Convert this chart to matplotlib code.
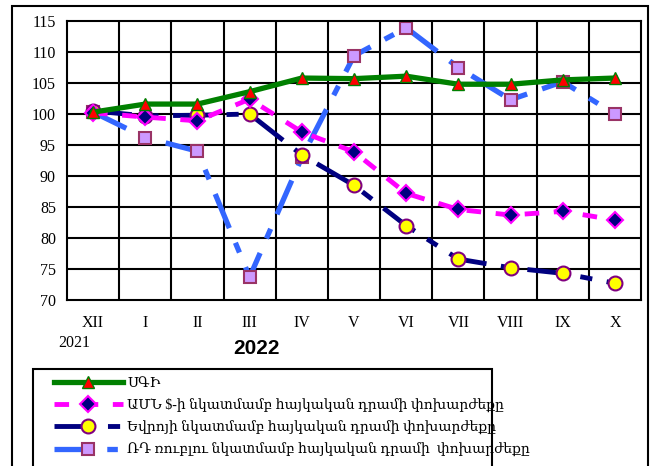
import matplotlib
matplotlib.use('Agg')
import matplotlib.pyplot as plt
from matplotlib.patches import Rectangle

months = ['XII', 'I', 'II', 'III', 'IV', 'V', 'VI', 'VII', 'VIII', 'IX', 'X']
cpi = [100.3, 101.6, 101.6, 103.6, 105.8, 105.7, 106.1, 104.8, 104.8, 105.5, 105.8]
usd = [100.2, 99.5, 98.9, 102.4, 97.1, 93.9, 87.2, 84.6, 83.7, 84.3, 82.9]
eur = [100.5, 99.7, 99.8, 100.0, 93.4, 88.5, 82.0, 76.6, 75.2, 74.3, 72.7]
rub = [100.3, 96.2, 94.0, 73.7, 93.0, 109.4, 113.9, 107.5, 102.3, 105.2, 100.0]
names = ['ՍԳԻ',
         'ԱՄՆ $-ի նկատմամբ հայկական դրամի փոխարժեքը',
         'Եվրոյի նկատմամբ հայկական դրամի փոխարժեքը',
         'ՌԴ ռուբլու նկատմամբ հայկական դրամի  փոխարժեքը']

serif = ['Liberation Serif', 'DejaVu Serif']
plt.rcParams['font.family'] = serif

fig = plt.figure(figsize=(6.51, 4.66), dpi=100)
ax = fig.add_axes([67/651, 1 - 300/466, 574/651, 279/466])

x = list(range(len(months)))
ax.plot(x, cpi, color='#008000', lw=3.8, marker='^', ms=8,
        mfc='red', mec='#008000', mew=1, label=names[0], zorder=5)
ax.plot(x, usd, color='#ff00ff', lw=3.5, ls=(0, (3, 3)), marker='D', ms=8,
        mfc='#000080', mec='#ff00ff', mew=1.5, label=names[1], zorder=4)
ax.plot(x, eur, color='#000080', lw=3.5, ls=(0, (8, 3, 2.5, 3)), marker='o', ms=10,
        mfc='yellow', mec='#800080', mew=1.5, label=names[2], zorder=3)
ax.plot(x, rub, color='#3366ff', lw=3.8, ls=(0, (7, 3, 2, 3)), marker='s', ms=8,
        mfc='#cc99ff', mec='#993366', mew=1.5, label=names[3], zorder=2)

ax.set_xlim(-0.5, len(months) - 0.5)
ax.set_ylim(70, 115)
ax.set_yticks(range(70, 116, 5))
ax.set_xticks(x)
ax.set_xticklabels(months)
ax.tick_params(axis='both', length=0, labelsize=11.5, pad=8)
ax.tick_params(axis='x', pad=11)
ax.grid(False)
for v in [i + 0.5 for i in x[:-1]]:
    ax.axvline(v, color='black', lw=1.5, zorder=1)
for v in range(75, 115, 5):
    ax.axhline(v, color='black', lw=1.5, zorder=1)
for s in ax.spines.values():
    s.set_linewidth(1.5)

fig.text(74/651, 1 - 343/466, '2021', ha='center', va='center', fontsize=11.5)
fig.text(256/651, 1 - 348/466, '2022', ha='center', va='center', fontsize=15,
         fontweight='bold', family='Liberation Sans')

# outer chart border and legend box (both run past the bottom edge)
fig.patches.append(Rectangle((12/651, -0.05), 636/651, 1.05 - 6/466, transform=fig.transFigure,
                             fill=False, ec='black', lw=1.5))
fig.patches.append(Rectangle((33/651, -0.05), 459/651, 0.05 + 1 - 369/466,
                             transform=fig.transFigure, fill=False, ec='black', lw=1.5))

leg = fig.legend(loc='upper left', bbox_to_anchor=(48/651, 1 - 371/466), frameon=False,
                 handlelength=5, handletextpad=0.3, labelspacing=0.6,
                 borderaxespad=0, prop={'family': serif, 'size': 10})

fig.savefig('out.png', dpi=100)
